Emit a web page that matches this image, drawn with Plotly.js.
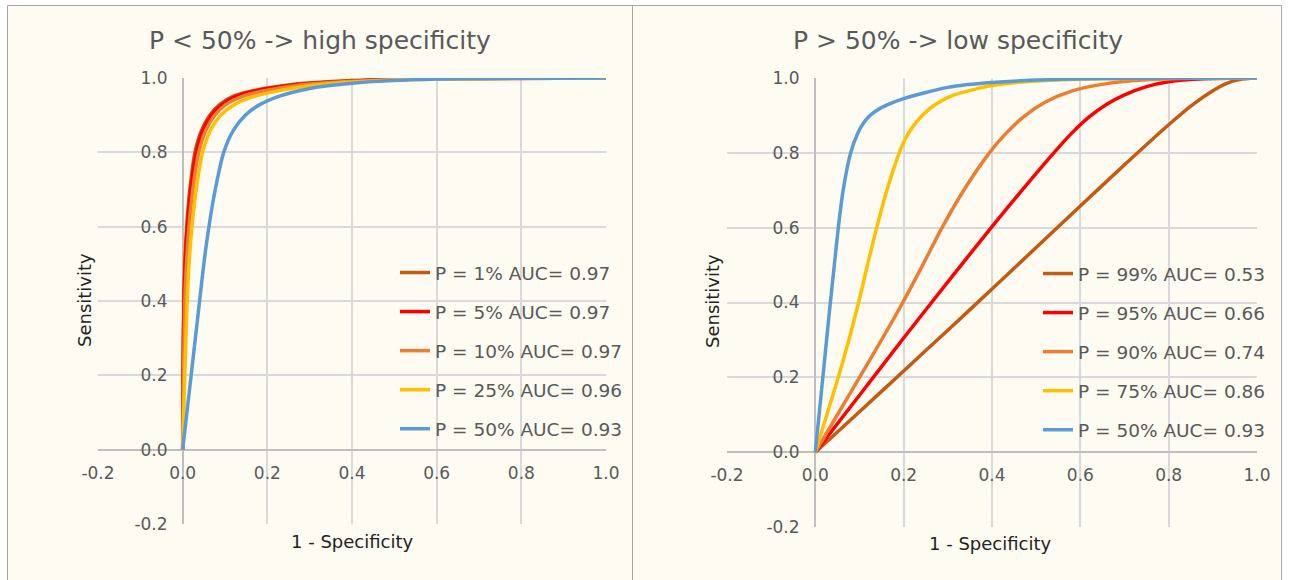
<!DOCTYPE html>
<html>
<head>
<meta charset="utf-8">
<script src="https://cdn.plot.ly/plotly-3.0.1.min.js"></script>
<style>
  html, body { margin: 0; padding: 0; background: #ffffff; }
  #chart { width: 1289px; height: 580px; }
</style>
</head>
<body>
<div id="chart"></div>
<script>
// ---------- DATA ----------
const tickVals = [-0.2, 0.0, 0.2, 0.4, 0.6, 0.8, 1.0];
const tickText = ['-0.2', '0.0', '0.2', '0.4', '0.6', '0.8', '1.0'];

const leftTitle = 'P < 50% -> high specificity';
const rightTitle = 'P > 50% -> low specificity';
const xTitle = '1 - Specificity';
const yTitle = 'Sensitivity';

const leftNames = ['P = 1% AUC= 0.97', 'P = 5% AUC= 0.97', 'P = 10% AUC= 0.97', 'P = 25% AUC= 0.96', 'P = 50% AUC= 0.93'];
const rightNames = ['P = 99% AUC= 0.53', 'P = 95% AUC= 0.66', 'P = 90% AUC= 0.74', 'P = 75% AUC= 0.86', 'P = 50% AUC= 0.93'];
const seriesColors = ['#C55A11', '#FF0000', '#ED7D31', '#FFC000', '#5B9BD5'];

// Left panel curves (1 - specificity, sensitivity)
const leftX_P1  = [0, 0.0008, 0.0025, 0.005, 0.0095, 0.017, 0.029, 0.045, 0.064, 0.088, 0.120, 0.175, 0.255, 0.400, 0.600, 0.930];
const leftY_P1  = [0, 0.20, 0.40, 0.50, 0.60, 0.70, 0.80, 0.86, 0.90, 0.929, 0.951, 0.968, 0.982, 0.993, 0.999, 1.0];
const leftX_P5  = [0, 0.001, 0.003, 0.006, 0.011, 0.019, 0.032, 0.048, 0.068, 0.092, 0.125, 0.180, 0.260, 0.400, 0.600, 1.0];
const leftY_P5  = [0, 0.20, 0.40, 0.50, 0.60, 0.70, 0.80, 0.86, 0.90, 0.928, 0.950, 0.967, 0.981, 0.992, 0.998, 1.0];
const leftX_P10 = [0, 0.002, 0.005, 0.009, 0.015, 0.024, 0.038, 0.055, 0.076, 0.100, 0.135, 0.190, 0.270, 0.400, 0.600, 1.0];
const leftY_P10 = [0, 0.20, 0.40, 0.50, 0.60, 0.70, 0.80, 0.86, 0.90, 0.927, 0.948, 0.965, 0.980, 0.991, 0.998, 1.0];
const leftX_P25 = [0, 0.005, 0.010, 0.015, 0.022, 0.032, 0.047, 0.066, 0.090, 0.120, 0.160, 0.220, 0.300, 0.400, 0.600, 1.0];
const leftY_P25 = [0, 0.20, 0.38, 0.50, 0.60, 0.70, 0.80, 0.86, 0.90, 0.927, 0.947, 0.964, 0.979, 0.989, 0.997, 1.0];
const leftX_P50 = [0, 0.010, 0.020, 0.030, 0.040, 0.050, 0.062, 0.077, 0.097, 0.120, 0.148, 0.180, 0.220, 0.300, 0.400, 0.600, 1.0];
const leftY_P50 = [0, 0.10, 0.20, 0.30, 0.40, 0.50, 0.60, 0.70, 0.80, 0.86, 0.90, 0.927, 0.948, 0.972, 0.986, 0.997, 1.0];

// Right panel curves
const rightX_P99 = [0, 0.100, 0.200, 0.300, 0.400, 0.500, 0.600, 0.700, 0.800, 0.850, 0.900, 0.930, 0.960, 1.0];
const rightY_P99 = [0, 0.108, 0.217, 0.326, 0.436, 0.547, 0.658, 0.768, 0.875, 0.925, 0.966, 0.985, 0.996, 1.0];
const rightX_P95 = [0, 0.100, 0.200, 0.300, 0.400, 0.470, 0.540, 0.580, 0.620, 0.660, 0.700, 0.750, 0.800, 0.880, 1.0];
const rightY_P95 = [0, 0.152, 0.305, 0.455, 0.603, 0.703, 0.800, 0.852, 0.896, 0.930, 0.955, 0.977, 0.990, 0.998, 1.0];
const rightX_P90 = [0, 0.050, 0.100, 0.150, 0.198, 0.243, 0.287, 0.336, 0.394, 0.430, 0.470, 0.520, 0.580, 0.660, 0.750, 0.850, 1.0];
const rightY_P90 = [0, 0.10, 0.20, 0.30, 0.40, 0.50, 0.60, 0.70, 0.80, 0.85, 0.895, 0.935, 0.965, 0.985, 0.995, 0.999, 1.0];
const rightX_P75 = [0, 0.026, 0.052, 0.076, 0.098, 0.118, 0.139, 0.162, 0.190, 0.205, 0.222, 0.242, 0.270, 0.310, 0.400, 0.500, 0.650, 1.0];
const rightY_P75 = [0, 0.10, 0.20, 0.30, 0.40, 0.50, 0.60, 0.70, 0.80, 0.84, 0.872, 0.90, 0.928, 0.953, 0.980, 0.992, 0.998, 1.0];
const rightX_P50 = [0, 0.017, 0.034, 0.043, 0.052, 0.063, 0.080, 0.097, 0.108, 0.122, 0.137, 0.160, 0.200, 0.300, 0.400, 0.600, 1.0];
const rightY_P50 = [0, 0.20, 0.40, 0.50, 0.60, 0.70, 0.80, 0.855, 0.878, 0.898, 0.912, 0.927, 0.945, 0.975, 0.988, 0.998, 1.0];

// ---------- FIGURE ----------
const W = 1289, H = 580;
const FONT = 'DejaVu Sans, Liberation Sans, Arial, sans-serif';
const px = v => v / W;
const py = v => (H - v) / H;

const leftXs = [leftX_P1, leftX_P5, leftX_P10, leftX_P25, leftX_P50];
const leftYs = [leftY_P1, leftY_P5, leftY_P10, leftY_P25, leftY_P50];
const rightXs = [rightX_P99, rightX_P95, rightX_P90, rightX_P75, rightX_P50];
const rightYs = [rightY_P99, rightY_P95, rightY_P90, rightY_P75, rightY_P50];

const traces = [];
leftNames.forEach((n, i) => traces.push({
  type: 'scatter', mode: 'lines', name: n, x: leftXs[i], y: leftYs[i],
  xaxis: 'x', yaxis: 'y', legend: 'legend', legendgroup: 'L' + i,
  line: { color: seriesColors[i], width: 3.5, shape: 'spline', smoothing: 0.7 },
  hoverinfo: 'skip'
}));
rightNames.forEach((n, i) => traces.push({
  type: 'scatter', mode: 'lines', name: n, x: rightXs[i], y: rightYs[i],
  xaxis: 'x2', yaxis: 'y2', legend: 'legend2', legendgroup: 'R' + i,
  line: { color: seriesColors[i], width: 3.5, shape: 'spline', smoothing: 0.7 },
  hoverinfo: 'skip'
}));

function axisBase() {
  return {
    range: [-0.2, 1.0], tickvals: tickVals, ticktext: tickText,
    showgrid: true, gridcolor: '#D9D9D9', gridwidth: 2,
    zeroline: true, zerolinecolor: '#BFBFBF', zerolinewidth: 2,
    showline: false, ticks: 'outside', tickcolor: 'rgba(0,0,0,0)',
    tickfont: { family: FONT, size: 17, color: '#595959' },
    fixedrange: true, anchor: 'free'
  };
}

const layout = {
  width: W, height: H,
  margin: { l: 0, r: 0, t: 0, b: 0, pad: 0 },
  paper_bgcolor: '#FFFFFF', plot_bgcolor: 'rgba(0,0,0,0)',
  font: { family: FONT, color: '#595959' },
  showlegend: true,
  xaxis: Object.assign(axisBase(), { domain: [px(98), px(606)], position: py(450), ticklen: 8 }),
  yaxis: Object.assign(axisBase(), { domain: [py(524), py(78)], position: px(183), ticklen: 12 }),
  xaxis2: Object.assign(axisBase(), { domain: [px(727), px(1257)], position: py(452), ticklen: 8 }),
  yaxis2: Object.assign(axisBase(), { domain: [py(527), py(78)], position: px(815), ticklen: 12 }),
  legend: {
    x: px(395), xanchor: 'left', y: py(254), yanchor: 'top',
    bgcolor: 'rgba(0,0,0,0)', borderwidth: 0, traceorder: 'grouped', tracegroupgap: 12,
    font: { family: FONT, size: 18.5, color: '#595959' }, itemwidth: 30
  },
  legend2: {
    x: px(1038), xanchor: 'left', y: py(255), yanchor: 'top',
    bgcolor: 'rgba(0,0,0,0)', borderwidth: 0, traceorder: 'grouped', tracegroupgap: 12,
    font: { family: FONT, size: 18.5, color: '#595959' }, itemwidth: 30
  },
  shapes: [
    { type: 'rect', xref: 'paper', yref: 'paper', layer: 'below',
      x0: px(7.5), x1: px(632.5), y0: -0.05, y1: py(5.5),
      fillcolor: '#FDFBF2', line: { color: '#A6A6A6', width: 1 } },
    { type: 'rect', xref: 'paper', yref: 'paper', layer: 'below',
      x0: px(632.5), x1: px(1281.5), y0: -0.05, y1: py(5.5),
      fillcolor: '#FDFBF2', line: { color: '#A6A6A6', width: 1 } }
  ],
  annotations: [
    { text: leftTitle, xref: 'paper', yref: 'paper', x: px(320), y: py(40), xanchor: 'center', yanchor: 'middle', showarrow: false,
      font: { family: FONT, size: 25, color: '#595959' } },
    { text: rightTitle, xref: 'paper', yref: 'paper', x: px(958), y: py(40), xanchor: 'center', yanchor: 'middle', showarrow: false,
      font: { family: FONT, size: 25, color: '#595959' } },
    { text: yTitle, xref: 'paper', yref: 'paper', x: px(85), y: py(300), xanchor: 'center', yanchor: 'middle', textangle: -90, showarrow: false,
      font: { family: FONT, size: 18, color: '#222222' } },
    { text: yTitle, xref: 'paper', yref: 'paper', x: px(712), y: py(301), xanchor: 'center', yanchor: 'middle', textangle: -90, showarrow: false,
      font: { family: FONT, size: 18, color: '#222222' } },
    { text: xTitle, xref: 'paper', yref: 'paper', x: px(352), y: py(541), xanchor: 'center', yanchor: 'middle', showarrow: false,
      font: { family: FONT, size: 18, color: '#222222' } },
    { text: xTitle, xref: 'paper', yref: 'paper', x: px(990), y: py(543), xanchor: 'center', yanchor: 'middle', showarrow: false,
      font: { family: FONT, size: 18, color: '#222222' } }
  ]
};

Plotly.newPlot('chart', traces, layout, { staticPlot: true, displayModeBar: false });
</script>
</body>
</html>
